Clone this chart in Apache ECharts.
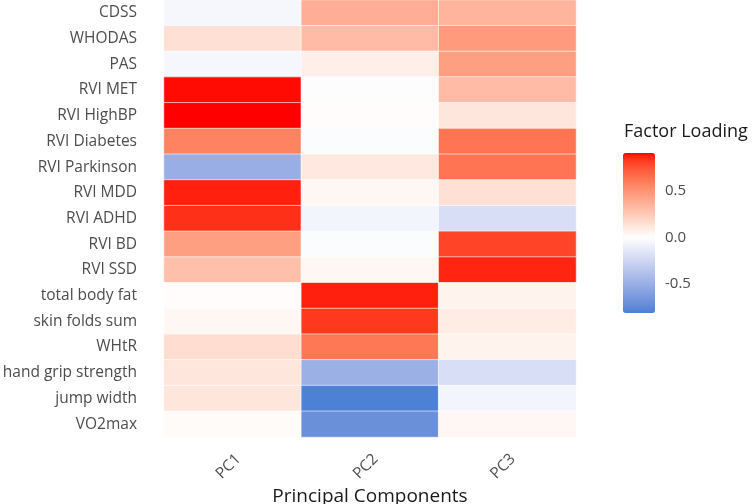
<!DOCTYPE html>
<html>
<head>
<meta charset="utf-8">
<script src="https://cdn.jsdelivr.net/npm/echarts@6/dist/echarts.min.js"></script>
<style>
  html, body { margin: 0; padding: 0; background: #fff; }
  #main { width: 756px; height: 504px; }
</style>
</head>
<body>
<div id="main"></div>
<script type="text/javascript">
// variables, top to bottom
var variables = ['CDSS', 'WHODAS', 'PAS', 'RVI MET', 'RVI HighBP', 'RVI Diabetes', 'RVI Parkinson',
  'RVI MDD', 'RVI ADHD', 'RVI BD', 'RVI SSD', 'total body fat', 'skin folds sum', 'WHtR',
  'hand grip strength', 'jump width', 'VO2max'];
var components = ['PC1', 'PC2', 'PC3'];

// loadings per component, same order as variables
var pc1 = [-0.05, 0.15, -0.05, 0.90, 0.91, 0.58, -0.50, 0.88, 0.85, 0.45, 0.30, 0.01, 0.04, 0.16, 0.12, 0.12, 0.02];
var pc2 = [0.38, 0.32, 0.08, 0.00, 0.01, -0.02, 0.11, 0.04, -0.06, -0.02, 0.04, 0.88, 0.83, 0.62, -0.49, -0.80, -0.70];
var pc3 = [0.35, 0.47, 0.45, 0.32, 0.12, 0.63, 0.63, 0.15, -0.20, 0.80, 0.87, 0.06, 0.09, 0.06, -0.20, -0.06, 0.04];

var legendTicks = [-0.5, 0, 0.5];
var vMin = -0.81, vMax = 0.91;

// gradient2-like scale: low -> white -> high, interpolated in Lab
function toLab(hex) {
  var c = [1, 3, 5].map(function (i) {
    var v = parseInt(hex.substr(i, 2), 16) / 255;
    return v <= 0.04045 ? v / 12.92 : Math.pow((v + 0.055) / 1.055, 2.4);
  });
  var x = (c[0] * 0.4124 + c[1] * 0.3576 + c[2] * 0.1805) / 0.95047;
  var y = (c[0] * 0.2126 + c[1] * 0.7152 + c[2] * 0.0722);
  var z = (c[0] * 0.0193 + c[1] * 0.1192 + c[2] * 0.9505) / 1.08883;
  var f = function (t) { return t > 0.008856 ? Math.cbrt(t) : 7.787 * t + 16 / 116; };
  return [116 * f(y) - 16, 500 * (f(x) - f(y)), 200 * (f(y) - f(z))];
}
function fromLab(l) {
  var fy = (l[0] + 16) / 116, fx = fy + l[1] / 500, fz = fy - l[2] / 200;
  var g = function (t) { return t * t * t > 0.008856 ? t * t * t : (t - 16 / 116) / 7.787; };
  var x = g(fx) * 0.95047, y = g(fy), z = g(fz) * 1.08883;
  var r = x * 3.2406 - y * 1.5372 - z * 0.4986;
  var gg = -x * 0.9689 + y * 1.8758 + z * 0.0415;
  var b = x * 0.0557 - y * 0.2040 + z * 1.0570;
  return '#' + [r, gg, b].map(function (v) {
    v = v <= 0.0031308 ? 12.92 * v : 1.055 * Math.pow(v, 1 / 2.4) - 0.055;
    v = Math.round(Math.max(0, Math.min(1, v)) * 255);
    return (v < 16 ? '0' : '') + v.toString(16);
  }).join('');
}
var lowLab = toLab('#4a80d4'), midLab = toLab('#ffffff'), highLab = toLab('#ff0000');
function colorAt(v) {
  var t, end;
  if (v < 0) { t = v / vMin; end = lowLab; } else { t = v / vMax; end = highLab; }
  return fromLab([0, 1, 2].map(function (i) { return midLab[i] + (end[i] - midLab[i]) * t; }));
}
var stops = [];
for (var s = 0; s <= 60; s++) stops.push(colorAt(vMin + (vMax - vMin) * s / 60));

var cols = [pc1, pc2, pc3];
var data = [];
cols.forEach(function (col, ci) {
  col.forEach(function (v, ri) { data.push([ci, ri, v]); });
});

var font = 'Open Sans';
var myChart = echarts.init(document.getElementById('main'));
var option = {
  animation: false,
  textStyle: { fontFamily: font },
  grid: [
    { left: 164, right: 180, top: 0, bottom: 67, outerBoundsMode: 'none', containLabel: false },
    { left: 623, width: 32, top: 153, height: 160, outerBoundsMode: 'none', containLabel: false }
  ],
  xAxis: [
    {
      type: 'category', data: components, gridIndex: 0,
      axisLine: { show: false }, axisTick: { show: false }, splitLine: { show: false },
      axisLabel: { rotate: 45, margin: 14, verticalAlign: 'top', fontSize: 15.5, color: '#4d4d4d', fontFamily: font },
      name: 'Principal Components', nameLocation: 'middle', nameGap: 50, nameMoveOverlap: false,
      nameTextStyle: { fontSize: 19, color: '#1a1a1a', fontFamily: font }
    },
    { type: 'category', gridIndex: 1, show: false, data: [''] }
  ],
  yAxis: [
    {
      type: 'category', data: variables, inverse: true, gridIndex: 0,
      axisLine: { show: false }, axisTick: { show: false }, splitLine: { show: false },
      axisLabel: { margin: 27, fontSize: 15.5, color: '#4d4d4d', fontFamily: font }
    },
    {
      type: 'value', gridIndex: 1, min: vMin, max: vMax, position: 'right',
      axisLine: { show: false }, splitLine: { show: false },
      axisTick: { show: true, inside: true, length: 6, customValues: legendTicks, lineStyle: { color: '#ffffff', width: 1 } },
      axisLabel: {
        customValues: legendTicks, margin: 10, fontSize: 15, color: '#4d4d4d', fontFamily: font,
        formatter: function (v) { return v.toFixed(1); }
      }
    }
  ],
  visualMap: {
    type: 'continuous', min: vMin, max: vMax, calculable: false, seriesIndex: 0,
    left: 623, top: 153, itemWidth: 32, itemHeight: 160, padding: 0,
    text: null, showLabel: false, hoverLink: false,
    inRange: { color: stops }
  },
  graphic: [{
    type: 'text', left: 624, top: 123,
    style: { text: 'Factor Loading', fontSize: 18, fill: '#1a1a1a', fontFamily: font }
  }],
  series: [{
    type: 'heatmap', xAxisIndex: 0, yAxisIndex: 0, data: data,
    itemStyle: { borderColor: 'rgba(255,255,255,0.6)', borderWidth: 1 },
    emphasis: { disabled: true }
  }]
};
myChart.setOption(option);
</script>
</body>
</html>
